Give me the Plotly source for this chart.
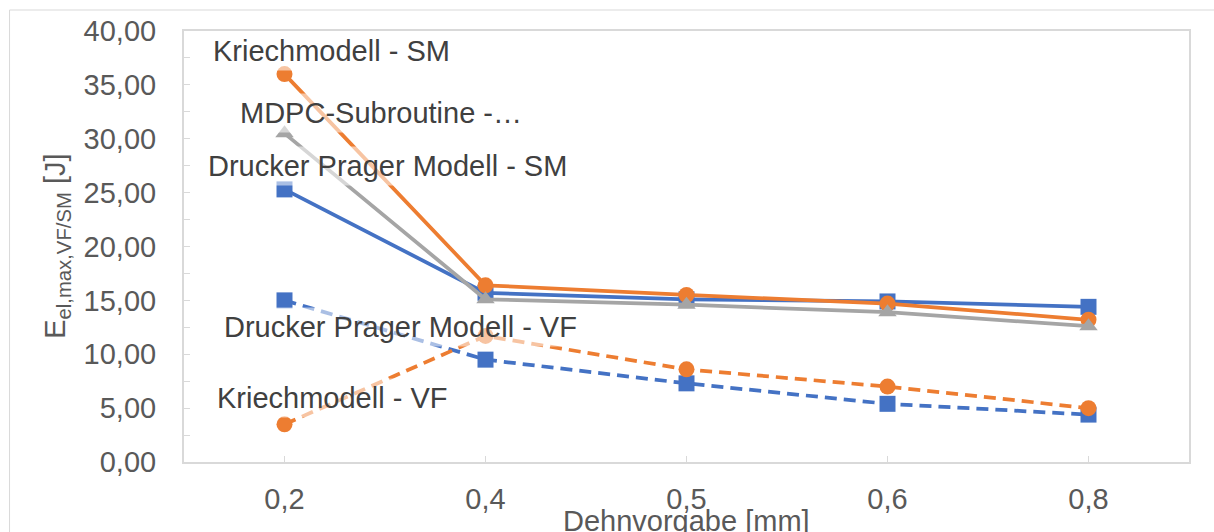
import plotly.graph_objects as go

# Imposed strain levels (category axis, German decimal comma)
dehnvorgabe = ["0,2", "0,4", "0,5", "0,6", "0,8"]

# Maximum elastic energy [J] per model and evaluation (SM / VF)
drucker_prager_sm = [25.3, 15.7, 15.1, 14.9, 14.4]
kriechmodell_sm = [36.0, 16.4, 15.5, 14.7, 13.2]
mdpc_subroutine_sm = [30.5, 15.1, 14.6, 13.9, 12.6]
drucker_prager_vf = [15.0, 9.5, 7.3, 5.4, 4.4]
kriechmodell_vf = [3.5, 11.7, 8.6, 7.0, 5.0]

BLUE = "#4472C4"
ORANGE = "#ED7D31"
GRAY = "#A5A5A5"
FONT = "Liberation Sans, Arial, sans-serif"

series = [
    ("Drucker Prager Modell - SM", drucker_prager_sm, BLUE, "square", "solid"),
    ("Kriechmodell - SM", kriechmodell_sm, ORANGE, "circle", "solid"),
    ("MDPC-Subroutine - SM", mdpc_subroutine_sm, GRAY, "triangle-up", "solid"),
    ("Drucker Prager Modell - VF", drucker_prager_vf, BLUE, "square", "12px,7px"),
    ("Kriechmodell - VF", kriechmodell_vf, ORANGE, "circle", "12px,7px"),
]

fig = go.Figure()
for name, values, color, symbol, dash in series:
    fig.add_trace(go.Scatter(
        x=dehnvorgabe, y=values, name=name, mode="lines+markers",
        line=dict(color=color, width=3.75, dash=dash),
        marker=dict(color=color, symbol=symbol, size=16, line=dict(width=0)),
        showlegend=False,
    ))

# Series name labels next to the first point of each curve (pixel offsets)
labels = [
    ("Kriechmodell - SM", kriechmodell_sm[0], 47, 23),
    ("MDPC-Subroutine -…", mdpc_subroutine_sm[0], 96, 20),
    ("Drucker Prager Modell - SM", drucker_prager_sm[0], 103, 23),
    ("Drucker Prager Modell - VF", drucker_prager_vf[0], 116, -27),
    ("Kriechmodell - VF", kriechmodell_vf[0], 47, 26),
]
for text, yval, dx, dy in labels:
    fig.add_annotation(
        x=dehnvorgabe[0], y=yval, xref="x", yref="y", text=text,
        showarrow=False, xshift=dx, yshift=dy,
        xanchor="center", yanchor="middle",
        font=dict(family=FONT, size=29, color="#404040"),
        bgcolor="rgba(255,255,255,0.55)", borderpad=3,
    )

# Axis titles
fig.add_annotation(
    text="Dehnvorgabe [mm]", xref="paper", yref="paper", x=0.5, y=-0.138,
    xanchor="center", yanchor="middle", showarrow=False,
    font=dict(family=FONT, size=29, color="#595959"),
)
fig.add_annotation(
    text="E<sub>el,max,VF/SM</sub> [J]", xref="paper", yref="paper",
    x=-0.127, y=0.5, xanchor="center", yanchor="middle", textangle=-90,
    showarrow=False, font=dict(family=FONT, size=29, color="#595959"),
)

# Outer chart frame (extends past the right and bottom edges)
fig.add_shape(
    type="rect", xref="paper", yref="paper",
    x0=-0.1736, x1=1.2, y0=-0.3, y1=1.0487,
    line=dict(color="#D9D9D9", width=1), fillcolor="rgba(0,0,0,0)", layer="below",
)

fig.update_layout(
    width=1214, height=532,
    margin=dict(l=184, r=25, t=31, b=70),
    paper_bgcolor="white", plot_bgcolor="white",
    separators=",.",
    font=dict(family=FONT, size=29, color="#595959"),
    xaxis=dict(
        type="category", range=[-0.5, 4.5],
        showgrid=False, zeroline=False,
        showline=True, mirror=True, linecolor="#D9D9D9", linewidth=2,
        ticks="inside", ticklen=6, tickcolor="#D9D9D9", tickwidth=1,
        ticklabelstandoff=10,
        tickfont=dict(family=FONT, size=29, color="#595959"),
    ),
    yaxis=dict(
        range=[0, 40], dtick=5, tickformat=".2f",
        showgrid=False, zeroline=False,
        showline=True, mirror=True, linecolor="#D9D9D9", linewidth=2,
        ticks="inside", ticklen=6, tickcolor="#D9D9D9", tickwidth=1,
        minor=dict(dtick=2.5, ticks="inside", ticklen=6, tickcolor="#D9D9D9", showgrid=False),
        ticklabelstandoff=20,
        tickfont=dict(family=FONT, size=29, color="#595959"),
    ),
)

fig.write_html("out.html")
